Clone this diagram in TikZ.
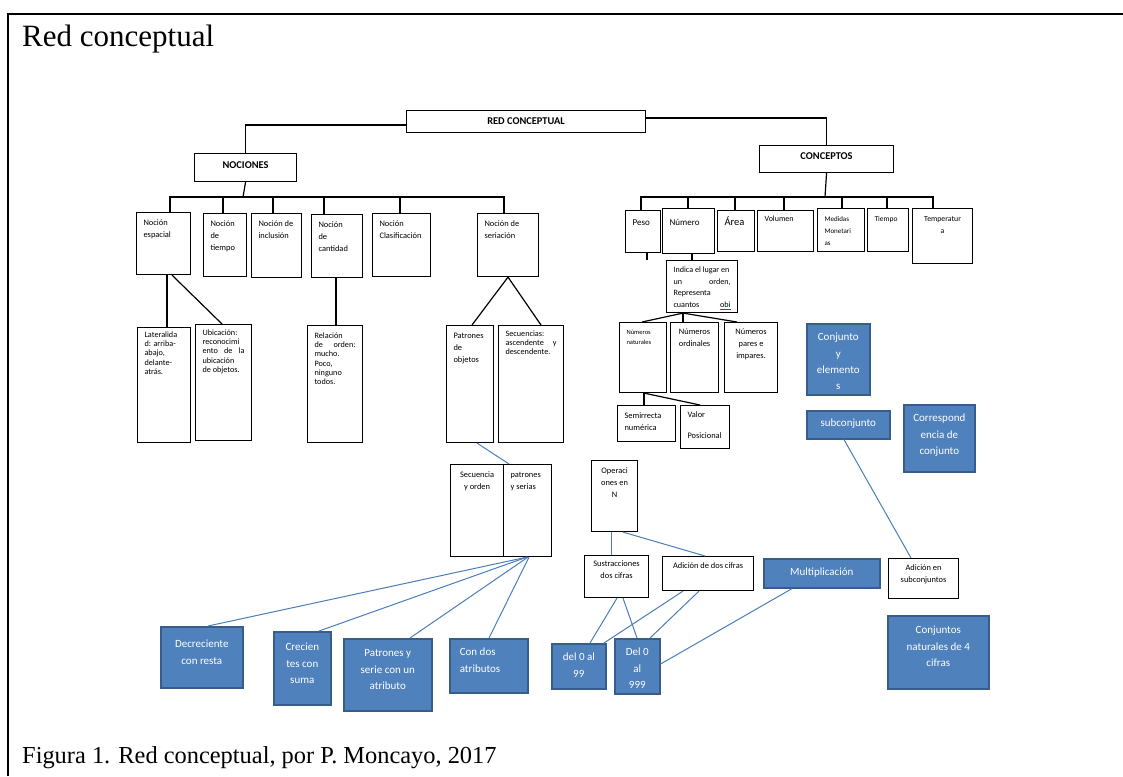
\documentclass[tikz,border=0pt]{standalone}
\usepackage{fontspec}
\setmainfont{Liberation Serif}
\newfontfamily\carl{Carlito}
\usetikzlibrary{calc}
\definecolor{bfill}{RGB}{79,129,189}
\definecolor{bdark}{RGB}{56,93,138}
\definecolor{bline}{RGB}{74,126,187}
% name, style, x1, y1, x2, y2, first-baseline offset, alignment, text
\newcommand\bx[9]{%
  \pgfmathsetmacro\bw{#5-#3}\pgfmathsetmacro\bh{#6-#4}\pgfmathsetmacro\tw{\bw-14}%
  \node[#2,anchor=north west,minimum width=\bw pt,minimum height=\bh pt,inner sep=0pt] (#1) at (#3,#4)
  {\parbox[t][\bh pt][t]{\tw pt}{#8\vspace*{\dimexpr#7pt-\ht\strutbox\relax}\strut#9}};}
\tikzset{
  wb/.style={draw=black,line width=1.1pt,fill=white,font=\carl\fontsize{8.4}{11.8}\selectfont},
  tight/.style={font=\carl\fontsize{8.2}{9.2}\selectfont},
  hb/.style={draw=black,line width=1.1pt,fill=white,font=\carl\bfseries\fontsize{10.4}{12}\selectfont},
  bb/.style={draw=bdark,line width=1.6pt,fill=bfill,text=white,font=\carl\fontsize{11}{16.3}\selectfont},
  con/.style={draw=black,line width=1.2pt},
  bcon/.style={draw=bline,line width=1pt}
}
\begin{document}
\begin{tikzpicture}[x=1pt,y=-1pt]
\useasboundingbox (0,0) rectangle (1123,776);
\fill[white] (0,0) rectangle (1123,776);
\draw[line width=2.6pt] (8,776) -- (8,14) -- (1123,14);
\node[anchor=base west,inner sep=0pt,font=\fontsize{31}{36}\selectfont] (title) at (22,46) {Red conceptual};
\node[anchor=base west,inner sep=0pt,font=\fontsize{24.4}{28}\selectfont] (caption) at (22,763) {Figura 1. Red conceptual, por P. Moncayo, 2017};

% top level
\bx{red}{hb}{406}{110}{645}{132}{14}{\centering}{RED CONCEPTUAL}
\bx{noc}{hb}{194}{153}{296}{181}{14.5}{\centering}{NOCIONES}
\bx{con}{hb}{759}{145}{893}{172}{13.5}{\centering}{CONCEPTOS}

% nociones
\bx{esp}{wb}{136}{212}{190}{274}{13}{\raggedright}{Noción\\espacial}
\bx{tie}{wb}{203}{213}{246}{276}{13}{\raggedright}{Noción\\de\\tiempo}
\bx{inc}{wb}{251}{213}{301}{277}{13}{\raggedright}{Noción de\\inclusión}
\bx{can}{wb}{311}{214}{362}{277}{13}{\raggedright}{Noción\\de\\cantidad}
\bx{cla}{wb}{372}{213}{430}{276}{13}{\raggedright}{Noción\\Clasificación}
\bx{ser}{wb}{477}{213}{538}{276}{13}{\raggedright}{Noción de\\seriación}

\bx{lat}{wb,tight}{137}{327}{190}{442}{10}{\raggedright}{Lateralida\\d: arriba-\\abajo,\\delante-\\atrás.}
\bx{ubi}{wb,tight}{195}{324}{251}{440}{11}{\raggedright}{Ubicación:\\reconocimi\\ento\hfill de\hfill la\\ubicación\\de objetos.}
\bx{rel}{wb,tight}{307}{325}{362}{442}{13}{\raggedright}{Relación\\de\hfill orden:\\mucho.\\Poco,\\ninguno\\todos.}
\bx{pat}{wb}{446}{325}{493}{442}{13}{\raggedright}{Patrones\\de\\objetos}
\bx{sec}{wb,tight}{498}{325}{563}{442}{11}{\raggedright}{Secuencias:\\ascendente\hfill y\\descendente.}

\bx{seqL}{wb}{450}{464}{503}{556}{13}{\centering}{Secuencia\\y orden}
\bx{seqR}{wb}{503}{464}{551}{556}{13}{\raggedright}{patrones\\y serias}

% conceptos
\bx{peso}{wb,font=\carl\fontsize{9}{11}\selectfont}{625}{210}{660}{252}{14.7}{\raggedright}{Peso}
\bx{num}{wb,font=\carl\fontsize{9}{11}\selectfont}{662}{208}{714}{253}{16.7}{\raggedright}{Número}
\bx{are}{wb,font=\carl\fontsize{10.5}{12}\selectfont}{717}{210}{754}{251}{15}{\raggedright}{Área}
\bx{vol}{wb,font=\carl\fontsize{8}{11}\selectfont}{757}{210}{813}{251}{11.3}{\raggedright}{Volumen}
\bx{med}{wb,font=\carl\fontsize{7}{12}\selectfont}{817}{208}{864}{251}{12.7}{\raggedright}{Medidas\\Monetari\\as}
\bx{tiem}{wb,font=\carl\fontsize{7.5}{11}\selectfont}{867}{208}{908}{251}{13}{\raggedright}{Tiempo}
\bx{temp}{wb,font=\carl\fontsize{7.8}{12}\selectfont}{912}{208}{972}{263}{13}{\centering}{Temperatur\\a}

\bx{ind}{wb,font=\carl\fontsize{8.1}{11.7}\selectfont}{666}{260}{737}{312}{12}{\raggedright}{Indica el lugar en\\un\hfill orden,\\Representa\\cuantos\hfill {\color{red}\underline{\color{black}obi}}}
\bx{nat}{wb,font=\carl\fontsize{6.5}{10}\selectfont}{619}{322}{666}{392}{12}{\raggedright}{Números\\naturales}
\bx{ord}{wb}{670}{322}{718}{392}{12}{\centering}{Números\\ordinales}
\bx{par}{wb}{724}{322}{777}{392}{12}{\centering}{Números\\pares e\\impares.}
\bx{semi}{wb}{617}{405}{675}{441}{13}{\raggedright}{Semirrecta\\numérica}
\bx{val}{wb}{680}{405}{729}{448}{12}{\raggedright}{Valor\\[9pt]Posicional}

\bx{ope}{wb}{591}{460}{637}{531}{13}{\centering}{Operaci\\ones en\\N}
\bx{sus}{wb}{584}{555}{648}{597}{11}{\centering}{Sustracciones\\dos cifras}
\bx{adi}{wb}{662}{556}{753}{590}{12}{\centering}{Adición de dos cifras}
\bx{mul}{bb}{763}{558}{879}{587}{17}{\centering}{Multiplicación}
\bx{ads}{wb}{888}{558}{958}{598}{12}{\centering}{Adición en\\subconjuntos}

% blue boxes
\bx{cye}{bb}{806}{323}{869}{394}{17}{\centering}{Conjunto\\y\\elemento\\s}
\bx{sub}{bb}{806}{410}{889}{438}{16}{\centering}{subconjunto}
\bx{cor}{bb}{903}{404}{974}{471}{17}{\centering}{Correspond\\encia de\\conjunto}
\bx{cnat}{bb}{887}{615}{988}{688}{18}{\centering}{Conjuntos\\naturales de 4\\cifras}
\bx{d99}{bb}{551}{643}{605}{688}{17}{\centering}{del 0 al\\99}
\bx{d999}{bb}{614}{638}{659}{693}{17}{\centering}{Del 0\\al\\999}
\bx{dec}{bb}{160}{626}{242}{687}{21}{\centering}{Decreciente\\con resta}
\bx{cre}{bb}{273}{631}{330}{704}{19}{\centering}{Crecien\\tes con\\suma}
\bx{pys}{bb}{343}{638}{431}{710}{18}{\centering}{Patrones y\\serie con un\\atributo}
\bx{cda}{bb}{449}{638}{527}{692}{17}{\raggedright}{\hspace*{3pt}Con dos\\\hspace*{3pt}atributos}

% bus coordinates
\coordinate (nbus) at (243,197);
\coordinate (cbus) at (825,197);
\coordinate (pstub) at (647,260);

% black connectors
\draw[con] (red.west |- 0,125) -| (noc.north);
\draw[con] (red.east |- 0,118) -| (con.north);
\draw[con] (noc.south) -- (nbus);
\draw[con] (esp.north -| 170,0) -- (170,0 |- nbus) -- (504,0 |- nbus) -- (ser.north -| 504,0);
\draw[con] (tie.north -| 223,0) -- (223,0 |- nbus);
\draw[con] (inc.north -| 273,0) -- (273,0 |- nbus);
\draw[con] (can.north -| 324,0) -- (324,0 |- nbus);
\draw[con] (cla.north -| 400,0) -- (400,0 |- nbus);
\draw[con] (con.south) -- (cbus);
\draw[con] (peso.north -| 641,0) -- (641,0 |- cbus) -- (933,0 |- cbus) -- (temp.north -| 933,0);
\draw[con] (num.north -| 688,0) -- (688,0 |- cbus);
\draw[con] (are.north -| 735,0) -- (735,0 |- cbus);
\draw[con] (vol.north -| 784,0) -- (784,0 |- cbus);
\draw[con] (med.north -| 842,0) -- (842,0 |- cbus);
\draw[con] (tiem.north -| 887,0) -- (887,0 |- cbus);

\draw[con] (esp.south -| 167,0) -- (lat.north -| 167,0);
\draw[con] (esp.south -| 172,0) -- (ubi.north -| 222,0);
\draw[con] (can.south -| 336,0) -- (rel.north -| 336,0);
\draw[con] (ser.south -| 508,0) -- (pat.north -| 472,0);
\draw[con] (ser.south -| 508,0) -- (sec.north -| 541,0);

\draw[con] (peso.south -| 647,0) -- (pstub);
\draw[con] (num.south -| 692,0) -- (ind.north -| 692,0);
\draw[con] (ind.south -| 683,0) -- (nat.north -| 642,0);
\draw[con] (ind.south -| 683,0) -- (ord.north -| 683,0);
\draw[con] (ind.south -| 683,0) -- (par.north -| 737,0);
\draw[con] (nat.south -| 644,0) -- (semi.north -| 644,0);
\draw[con] (nat.south -| 644,0) -- (val.north -| 700,0);

% blue connectors
\draw[bcon] (pat.south -| 477,0) -- (seqR.north -| 509,0);
\draw[bcon] (seqR.south -| 527,0) -- (dec.north -| 208,0);
\draw[bcon] (seqR.south -| 527,0) -- (cre.north -| 319,0);
\draw[bcon] (seqR.south -| 528,0) -- (pys.north -| 410,0);
\draw[bcon] (seqR.south -| 529,0) -- (cda.north -| 489,0);
\draw[bcon] (ope.south -| 611,0) -- (sus.north -| 611,0);
\draw[bcon] (ope.south -| 623,0) -- (adi.north -| 705,0);
\draw[bcon] (sus.south -| 617,0) -- (d99.north -| 590,0);
\draw[bcon] (sus.south -| 623,0) -- (d999.north -| 637,0);
\draw[bcon] (adi.south -| 683,0) -- (d99.north -| 604,0);
\draw[bcon] (adi.south -| 699,0) -- (d999.north -| 650,0);
\draw[bcon] (mul.south -| 792,0) -- (d999.east |- 0,664);
\draw[bcon] (sub.south -| 844,0) -- (ads.north -| 911,0);
\end{tikzpicture}
\end{document}
